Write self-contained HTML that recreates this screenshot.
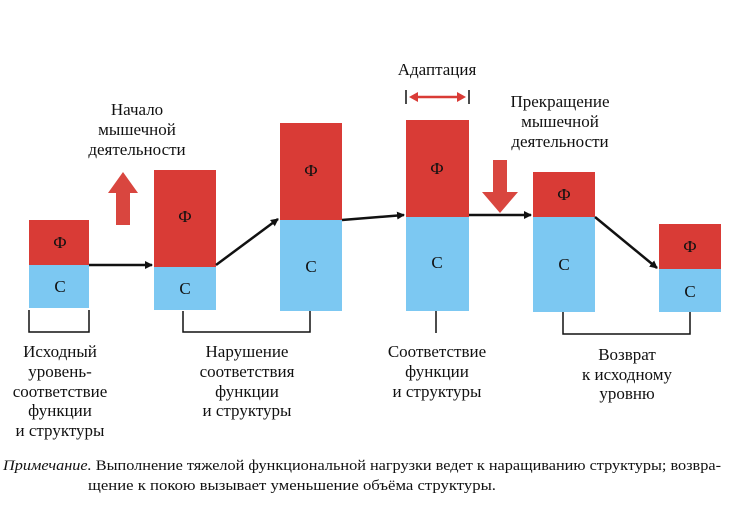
<!DOCTYPE html>
<html><head><meta charset="utf-8"><style>
body{margin:0;background:#fff;}
svg text{font-family:"Liberation Serif",serif;fill:#111;}
</style></head><body>
<svg width="732" height="506" viewBox="0 0 732 506">
<defs><marker id="a" markerWidth="8" markerHeight="8" refX="7" refY="4" orient="auto" markerUnits="userSpaceOnUse" viewBox="0 0 8 8"><path d="M0,0 L8,4 L0,8 Z" fill="#111"/></marker></defs>
<g>
<rect x="29" y="220" width="60" height="45" fill="#d93b36"/><rect x="29" y="265" width="60" height="43" fill="#7cc8f2"/>
<rect x="154" y="170" width="62" height="97" fill="#d93b36"/><rect x="154" y="267" width="62" height="43" fill="#7cc8f2"/>
<rect x="280" y="123" width="62" height="97" fill="#d93b36"/><rect x="280" y="220" width="62" height="91" fill="#7cc8f2"/>
<rect x="406" y="120" width="63" height="97" fill="#d93b36"/><rect x="406" y="217" width="63" height="94" fill="#7cc8f2"/>
<rect x="533" y="172" width="62" height="45" fill="#d93b36"/><rect x="533" y="217" width="62" height="95" fill="#7cc8f2"/>
<rect x="659" y="224" width="62" height="45" fill="#d93b36"/><rect x="659" y="269" width="62" height="43" fill="#7cc8f2"/>
</g>
<g font-size="17" text-anchor="middle">
<text x="60" y="248">Ф</text><text x="60" y="292">С</text>
<text x="185" y="222">Ф</text><text x="185" y="294">С</text>
<text x="311" y="176">Ф</text><text x="311" y="272">С</text>
<text x="437" y="174">Ф</text><text x="437" y="268">С</text>
<text x="564" y="200">Ф</text><text x="564" y="270">С</text>
<text x="690" y="252">Ф</text><text x="690" y="297">С</text>
</g>
<g stroke="#111" stroke-width="2.5" fill="none">
<line x1="89" y1="265" x2="152" y2="265" marker-end="url(#a)"/>
<line x1="216" y1="265" x2="278" y2="219" marker-end="url(#a)"/>
<line x1="342" y1="220" x2="404" y2="215" marker-end="url(#a)"/>
<line x1="469" y1="215" x2="531" y2="215" marker-end="url(#a)"/>
<line x1="595" y1="217" x2="657" y2="268" marker-end="url(#a)"/>
</g>
<g stroke="#111" stroke-width="1.5" fill="none">
<path d="M29,310 V332 H89 V310"/>
<path d="M183,311 V332 H310 V311"/>
<path d="M436,311 V333"/>
<path d="M563,312 V334 H690 V312"/>
</g>
<path d="M116,225 V193 H108 L123,172 L138,193 H130 V225 Z" fill="#d9463f"/>
<path d="M493,160 H507 V192 H518 L500,213 L482,192 H493 Z" fill="#d9463f"/>
<g stroke="#d93b36" stroke-width="2.5"><line x1="412" y1="97" x2="463" y2="97"/></g>
<path d="M409,97 L418,92 L418,102 Z M466,97 L457,92 L457,102 Z" fill="#d93b36"/>
<g stroke="#111" stroke-width="1.5"><line x1="406" y1="90" x2="406" y2="104"/><line x1="469" y1="90" x2="469" y2="104"/></g>
<g font-size="17" text-anchor="middle">
<text x="437" y="75">Адаптация</text>
<text x="137" y="115">Начало</text><text x="137" y="135">мышечной</text><text x="137" y="155">деятельности</text>
<text x="560" y="107">Прекращение</text><text x="560" y="127">мышечной</text><text x="560" y="147">деятельности</text>
<text x="60" y="357">Исходный</text><text x="60" y="377">уровень-</text><text x="60" y="397">соответствие</text><text x="60" y="416">функции</text><text x="60" y="436">и структуры</text>
<text x="247" y="357">Нарушение</text><text x="247" y="377">соответствия</text><text x="247" y="397">функции</text><text x="247" y="416">и структуры</text>
<text x="437" y="357">Соответствие</text><text x="437" y="377">функции</text><text x="437" y="397">и структуры</text>
<text x="627" y="360">Возврат</text><text x="627" y="380">к исходному</text><text x="627" y="399">уровню</text>
</g>
<g font-size="14.5">
<text x="3" y="470" textLength="718" lengthAdjust="spacingAndGlyphs"><tspan font-style="italic">Примечание.</tspan> Выполнение тяжелой функциональной нагрузки ведет к наращиванию структуры; возвра-</text>
<text x="88" y="490" textLength="408" lengthAdjust="spacingAndGlyphs">щение к покою вызывает уменьшение объёма структуры.</text>
</g>
</svg>
</body></html>
